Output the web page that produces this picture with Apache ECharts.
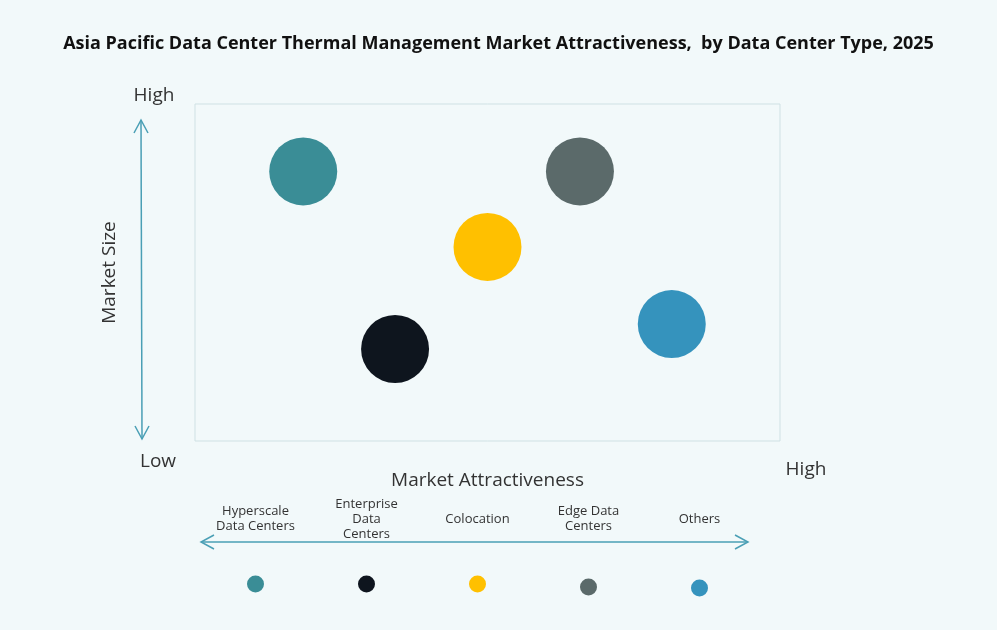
<!DOCTYPE html>
<html>
<head>
<meta charset="utf-8">
<script src="https://cdn.jsdelivr.net/npm/echarts@6/dist/echarts.min.js"></script>
<style>
  html, body { margin: 0; padding: 0; background: #f2f9fa; }
  #main { width: 997px; height: 630px; }
</style>
</head>
<body>
<div id="main"></div>
<script>
// data
const types = ["Hyperscale\nData Centers", "Enterprise\nData\nCenters", "Colocation", "Edge Data\nCenters", "Others"];
const colors = ["#3a8d96", "#0e151e", "#ffc000", "#5b6a6a", "#3593bd"];
const attractiveness = [18.5, 34.2, 50, 65.8, 81.5];
const marketSize = [80, 27.3, 57.6, 80, 34.7];
const legendDotY = [42, 42, 42, 45, 46];

const font = "Open Sans";
const arrowColor = "#4a9fb5";
const textColor = "#333";

const chart = echarts.init(document.getElementById("main"));

const bubbles = types.map((t, i) => ({
  name: t,
  value: [attractiveness[i], marketSize[i]],
  itemStyle: { color: colors[i], opacity: 1 },
}));
const dots = types.map((t, i) => ({
  value: [t, legendDotY[i]],
  itemStyle: { color: colors[i], opacity: 1 },
}));

const option = {
  backgroundColor: "#f2f9fa",
  animation: false,
  title: {
    text: "Asia Pacific Data Center Thermal Management Market Attractiveness,  by Data Center Type, 2025",
    left: "center",
    top: 30,
    textStyle: { fontFamily: font, fontWeight: "bold", fontSize: 18, color: "#111" },
  },
  grid: [
    {
      left: 195, top: 104, width: 585, height: 337,
      show: true, borderColor: "#cfe1e4", borderWidth: 1, backgroundColor: "transparent",
    },
    { left: 200, top: 542, width: 555, height: 50 },
  ],
  xAxis: [
    {
      gridIndex: 0, type: "value", min: 0, max: 100,
      name: "Market Attractiveness", nameLocation: "middle", nameGap: 30,
      nameTextStyle: { fontFamily: font, fontSize: 19, color: textColor },
      axisLine: { show: false }, axisTick: { show: false },
      axisLabel: { show: false }, splitLine: { show: false },
    },
    {
      gridIndex: 1, type: "category", data: types, position: "top",
      axisLine: { show: false }, axisTick: { show: false }, splitLine: { show: false },
      axisLabel: {
        margin: 23, verticalAlign: "middle", lineHeight: 15,
        fontFamily: font, fontSize: 13, color: textColor, interval: 0,
      },
    },
  ],
  yAxis: [
    {
      gridIndex: 0, type: "value", min: 0, max: 100,
      name: "Market Size", nameLocation: "middle", nameGap: 76, nameRotate: 90,
      nameTextStyle: { fontFamily: font, fontSize: 19, color: textColor },
      axisLine: { show: false }, axisTick: { show: false },
      axisLabel: { show: false }, splitLine: { show: false },
    },
    {
      gridIndex: 1, type: "value", min: 0, max: 50, inverse: true,
      axisLine: { show: false }, axisTick: { show: false },
      axisLabel: { show: false }, splitLine: { show: false },
    },
  ],
  series: [
    {
      type: "scatter", xAxisIndex: 0, yAxisIndex: 0,
      symbolSize: 68, data: bubbles,
    },
    {
      type: "scatter", xAxisIndex: 1, yAxisIndex: 1,
      symbolSize: 17, data: dots,
    },
  ],
  graphic: [
    // vertical arrow
    { type: "line", shape: { x1: 141, y1: 120, x2: 142, y2: 439 }, style: { stroke: arrowColor, lineWidth: 1.5 } },
    { type: "polyline", shape: { points: [[134, 133], [141, 120], [148, 133]] }, style: { stroke: arrowColor, lineWidth: 1.5, fill: null } },
    { type: "polyline", shape: { points: [[135, 426], [142, 439], [149, 426]] }, style: { stroke: arrowColor, lineWidth: 1.5, fill: null } },
    // horizontal arrow
    { type: "line", shape: { x1: 201, y1: 542, x2: 748, y2: 542 }, style: { stroke: arrowColor, lineWidth: 1.5 } },
    { type: "polyline", shape: { points: [[214, 535], [201, 542], [214, 549]] }, style: { stroke: arrowColor, lineWidth: 1.5, fill: null } },
    { type: "polyline", shape: { points: [[735, 535], [748, 542], [735, 549]] }, style: { stroke: arrowColor, lineWidth: 1.5, fill: null } },
    // end labels
    { type: "text", x: 154, y: 96, style: { text: "High", fontFamily: font, fontSize: 19, fill: textColor, align: "center", verticalAlign: "middle" } },
    { type: "text", x: 158, y: 462, style: { text: "Low", fontFamily: font, fontSize: 19, fill: textColor, align: "center", verticalAlign: "middle" } },
    { type: "text", x: 806, y: 470, style: { text: "High", fontFamily: font, fontSize: 19, fill: textColor, align: "center", verticalAlign: "middle" } },
  ],
};

chart.setOption(option);
</script>
</body>
</html>
